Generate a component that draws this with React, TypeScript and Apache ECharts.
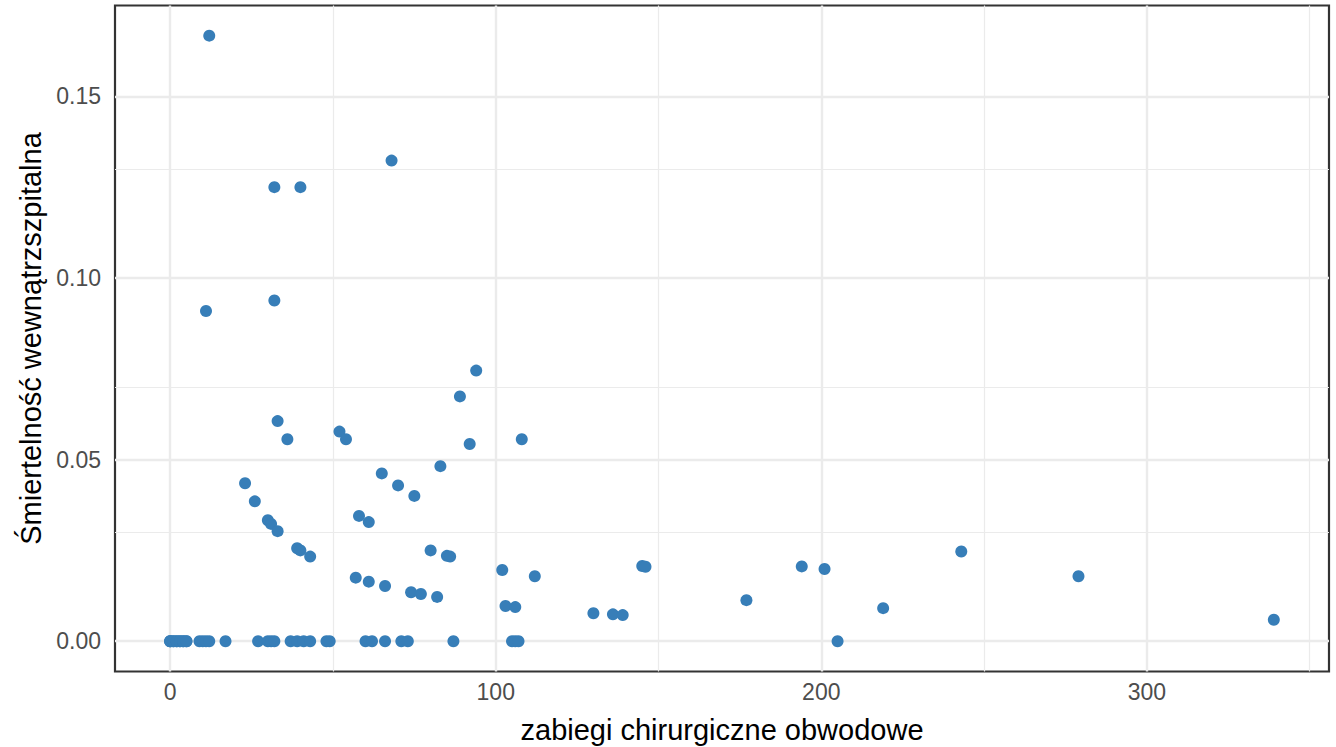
import React, { useEffect, useRef } from "react";
import * as echarts from "echarts";

// Hospitals with zero in-hospital mortality: number of peripheral surgeries
const zeroMortalitySurgeries = [
  0, 0, 0, 1, 1, 2, 2, 3, 3, 4, 4, 5, 5, 9, 10, 11, 12, 17, 27, 30, 31, 32, 37, 39,
  41, 43, 48, 49, 60, 62, 66, 71, 73, 87, 105, 106, 107, 205,
];

// Hospitals with non-zero mortality
const surgeries = [
  12, 68, 32, 40, 11, 32, 94, 89, 33, 52, 54, 36, 108, 92, 83, 65, 70, 23, 75, 26,
  30, 31, 33, 58, 61, 39, 40, 43, 80, 85, 86, 102, 112, 57, 61, 66, 74, 77, 82, 103,
  106, 130, 136, 139, 145, 146, 177, 194, 201, 219, 243, 279, 339,
];
const mortality = [
  0.1667, 0.1323, 0.125, 0.125, 0.0909, 0.0938, 0.0745, 0.0674, 0.0606, 0.0577,
  0.0556, 0.0556, 0.0556, 0.0543, 0.0482, 0.0462, 0.0429, 0.0435, 0.04, 0.0385,
  0.0333, 0.0323, 0.0303, 0.0345, 0.0328, 0.0256, 0.025, 0.0233, 0.025, 0.0235,
  0.0233, 0.0196, 0.0179, 0.0175, 0.0164, 0.0152, 0.0135, 0.013, 0.0122, 0.0097,
  0.0094, 0.0077, 0.0074, 0.0072, 0.0207, 0.0205, 0.0113, 0.0206, 0.0199, 0.0091,
  0.0247, 0.0179, 0.0059,
];

const xMajor = [0, 100, 200, 300];
const xMinor = [50, 150, 250, 350];
const yMajor = [0, 0.05, 0.1, 0.15];
const yMinor = [0.025, 0.075, 0.125];

const xTitle = "zabiegi chirurgiczne obwodowe";
const yTitle = "Śmiertelność wewnątrzszpitalna";

export default function App() {
  const ref = useRef<HTMLDivElement>(null);
  useEffect(() => {
    if (!ref.current) return;
    const chart = echarts.init(ref.current, null, { renderer: "svg" });
    const points: number[][] = [];
    zeroMortalitySurgeries.forEach((x) => points.push([x, 0]));
    surgeries.forEach((x, i) => points.push([x, mortality[i]]));

    const xMax = 339;
    const yMax = 1 / 6;
    const font = "'Liberation Sans', Arial, sans-serif";

    const gridLines: any[] = [];
    xMajor.forEach((v) => gridLines.push({ xAxis: v, lineStyle: { width: 2.4 } }));
    xMinor.forEach((v) => gridLines.push({ xAxis: v, lineStyle: { width: 1.2 } }));
    yMajor.forEach((v) => gridLines.push({ yAxis: v, lineStyle: { width: 2.4 } }));
    yMinor.forEach((v) => gridLines.push({ yAxis: v, lineStyle: { width: 1.2 } }));

    chart.setOption({
      animation: false,
      backgroundColor: "#ffffff",
      grid: {
        left: 115,
        top: 5.5,
        width: 1214,
        height: 666,
        containLabel: false,
        outerBoundsMode: "none",
        show: true,
        borderColor: "#333333",
        borderWidth: 2.2,
        backgroundColor: "transparent",
      },
      xAxis: {
        type: "value",
        min: -0.05 * xMax,
        max: xMax * 1.05,
        name: xTitle,
        nameLocation: "middle",
        nameGap: 44,
        nameTextStyle: { fontFamily: font, fontSize: 29, color: "#000000" },
        axisLine: { show: false },
        axisTick: {
          show: true,
          customValues: xMajor,
          length: 7,
          lineStyle: { color: "#333333", width: 2 },
        },
        axisLabel: {
          customValues: xMajor,
          margin: 9,
          fontFamily: font,
          fontSize: 23,
          color: "#4D4D4D",
        },
        splitLine: { show: false },
      },
      yAxis: {
        type: "value",
        min: -0.05 * yMax,
        max: yMax * 1.05,
        name: yTitle,
        nameLocation: "middle",
        nameGap: 70,
        nameTextStyle: { fontFamily: font, fontSize: 29, color: "#000000" },
        axisLine: { show: false },
        axisTick: {
          show: true,
          customValues: yMajor,
          length: 7,
          lineStyle: { color: "#333333", width: 2 },
        },
        axisLabel: {
          customValues: yMajor,
          margin: 14,
          fontFamily: font,
          fontSize: 23,
          color: "#4D4D4D",
          formatter: (v: number) => v.toFixed(2),
        },
        splitLine: { show: false },
      },
      series: [
        {
          type: "line",
          data: [],
          z: 1,
          silent: true,
          markLine: {
            silent: true,
            symbol: ["none", "none"],
            label: { show: false },
            lineStyle: { color: "#EBEBEB", type: "solid" },
            emphasis: { disabled: true },
            animation: false,
            data: gridLines,
          },
        },
        {
          type: "scatter",
          z: 5,
          data: points,
          symbol: "circle",
          symbolSize: 12,
          itemStyle: { color: "#377EB8", opacity: 1 },
          emphasis: { disabled: true },
        },
      ],
    });
    return () => chart.dispose();
  }, []);
  return (
    <div
      ref={ref}
      style={{ position: "absolute", left: 0, top: 0, width: 1336, height: 747 }}
    />
  );
}
